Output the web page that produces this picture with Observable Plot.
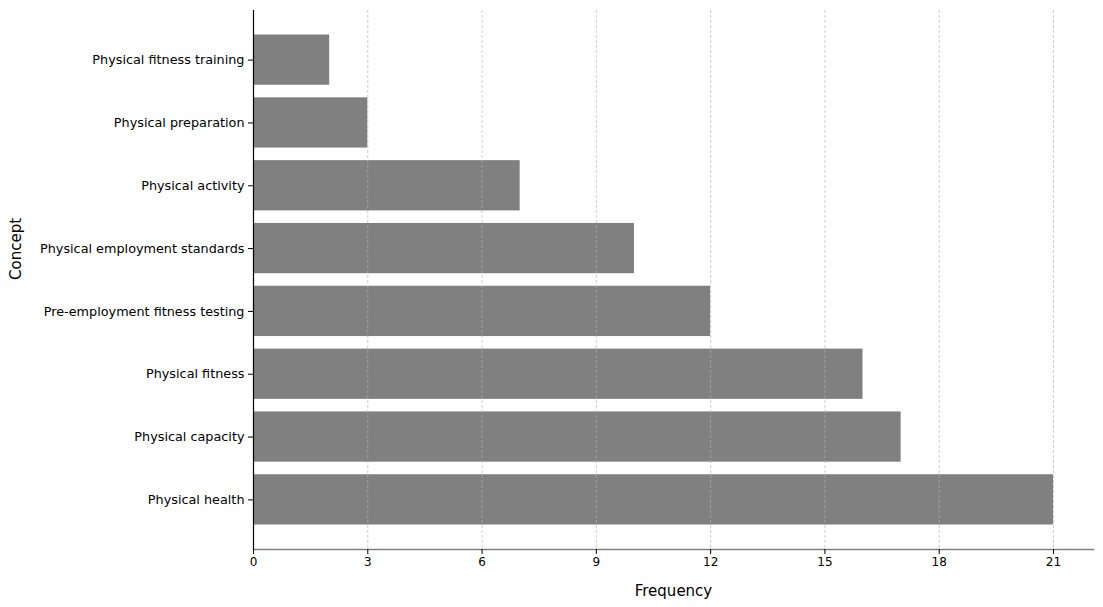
<!DOCTYPE html>
<html>
<head>
<meta charset="utf-8">
<script src="https://cdn.jsdelivr.net/npm/d3@7"></script>
<script src="https://cdn.jsdelivr.net/npm/@observablehq/plot@0.6"></script>
<style>
  html, body { margin: 0; padding: 0; background: #fff; }
  #chart svg { display: block; }
</style>
</head>
<body>
<div id="chart"></div>
<script>
const concepts = [
  "Physical fitness training",
  "Physical preparation",
  "Physical activity",
  "Physical employment standards",
  "Pre-employment fitness testing",
  "Physical fitness",
  "Physical capacity",
  "Physical health"
];
const frequencies = [2, 3, 7, 10, 12, 16, 17, 21];
const xTicks = [0, 3, 6, 9, 12, 15, 18, 21];

const data = concepts.map((c, i) => ({concept: c, frequency: frequencies[i]}));

const chart = Plot.plot({
  width: 1103,
  height: 607,
  marginTop: 10,
  marginBottom: 58,
  marginLeft: 253,
  marginRight: 10,
  style: {fontFamily: "DejaVu Sans, sans-serif", fontSize: "13px", color: "#000", background: "#fff"},
  x: {domain: [0, 22.05]},
  y: {domain: concepts, paddingInner: 0.2, paddingOuter: 0.39, round: false},
  marks: [
    Plot.barX(data, {x: "frequency", y: "concept", fill: "#808080"}),
    Plot.ruleX(xTicks, {stroke: "#b0b0b0", strokeWidth: 0.8, strokeDasharray: "3,2", strokeOpacity: 0.8}),
    Plot.frame({anchor: "bottom", stroke: "#808080", strokeWidth: 1.5}),
    Plot.frame({anchor: "left", stroke: "#000", strokeWidth: 1.2}),
    Plot.axisX({ticks: xTicks, tickSize: 5, tickPadding: 3, tickFormat: d => String(d), label: null, fontSize: 12}),
    Plot.axisY({tickSize: 5, tickPadding: 4, label: null, fontSize: 12.8}),
    Plot.text(["Frequency"], {frameAnchor: "bottom", dy: 42, fontSize: 15, text: d => d, lineAnchor: "middle"}),
    Plot.text(["Concept"], {frameAnchor: "left", dx: -237, rotate: -90, fontSize: 15, text: d => d})
  ]
});
document.getElementById("chart").append(chart);
</script>
</body>
</html>
